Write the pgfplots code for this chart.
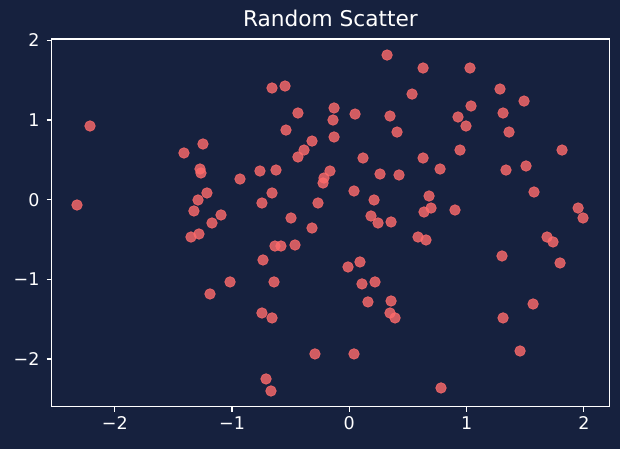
\documentclass[border=0pt]{standalone}
\usepackage{pgfplots}
\pgfplotsset{compat=1.18}
\usepackage{fontspec}
\setmainfont{DejaVu Sans}
\definecolor{bgc}{HTML}{16213E}
\definecolor{ptc}{HTML}{FF6B6B}
\begin{document}
\begin{tikzpicture}
\fill[bgc] (0,0) rectangle (446.4pt,323.3pt);
\path[use as bounding box] (0,0) rectangle (446.4pt,323.3pt);
\begin{axis}[
  at={(37.2pt,30.5pt)}, anchor=south west,
  scale only axis, width=401.5pt, height=264.7pt,
  xmin=-2.538, xmax=2.217, ymin=-2.599, ymax=2.017,
  axis line style={white, line width=0.9pt},
  axis background/.style={fill=bgc},
  tick align=outside, major tick length=3.6pt,
  tick style={white, line width=0.9pt},
  xtick={-2,-1,0,1,2}, xticklabels={−2,−1,0,1,2},
  ytick={-2,-1,0,1,2}, yticklabels={−2,−1,0,1,2},
  xtick pos=bottom, ytick pos=left,
  ticklabel style={font=\fontsize{12.6pt}{15pt}\selectfont, text=white, inner sep=0pt},
  xticklabel style={anchor=north, yshift=-3.6pt},
  yticklabel style={anchor=east, xshift=-5pt},
  title={Random Scatter},
  title style={font=\fontsize{15.6pt}{18pt}\selectfont, text=white, at={(0.5,1)}, anchor=base, inner sep=0pt, yshift=3pt},
  clip=false,
]
\addplot[only marks, mark=*, mark size=3.8pt,
  mark options={draw=ptc, fill=ptc, draw opacity=0.8, fill opacity=0.8, line width=0.5pt}]
coordinates {
(-2.322,-0.067) (-2.211,0.925) (-1.410,0.586) (-1.325,-0.142) (-1.350,-0.469)
(-1.282,-0.431) (-1.290,-0.004) (-1.273,0.385) (-1.265,0.335) (-1.248,0.699)
(-1.214,0.084) (-1.171,-0.293) (-1.094,-0.192) (-1.188,-1.184) (-1.017,-1.033)
(-0.932,0.259) (-0.762,0.360) (-0.745,-0.042) (-0.736,-0.757) (-0.745,-1.423)
(-0.659,-1.485) (-0.710,-2.251) (-0.668,-2.402) (-0.659,1.402) (-0.548,1.427)
(-0.625,0.372) (-0.659,0.084) (-0.634,-0.582) (-0.583,-0.582) (-0.642,-1.033)
(-0.540,0.874) (-0.497,-0.230) (-0.463,-0.569) (-0.438,1.088) (-0.438,0.536)
(-0.386,0.623) (-0.318,0.736) (-0.318,-0.356) (-0.267,-0.042) (-0.293,-1.937)
(-0.224,0.209) (-0.216,0.272) (-0.165,0.360) (-0.139,1.000) (-0.130,1.151)
(-0.130,0.787) (-0.011,-0.845) (0.040,0.109) (0.049,1.075) (0.040,-1.937)
(0.091,-0.782) (0.108,-1.058) (0.117,0.523) (0.159,-1.284) (0.185,-0.205)
(0.219,-1.033) (0.211,-0.004) (0.245,-0.293) (0.262,0.322) (0.322,1.816)
(0.356,-0.280) (0.347,1.050) (0.356,-1.272) (0.347,-1.423) (0.390,-1.485)
(0.407,0.849) (0.424,0.310) (0.535,1.326) (0.586,-0.469) (0.629,1.653)
(0.629,0.523) (0.637,-0.155) (0.654,-0.506) (0.680,0.046) (0.697,-0.105)
(0.774,0.385) (0.782,-2.364) (0.901,-0.130) (0.927,1.038) (0.944,0.623)
(0.995,0.925) (1.029,1.653) (1.038,1.176) (1.285,1.389) (1.311,1.088)
(1.302,-0.707) (1.311,-1.485) (1.336,0.372) (1.362,0.849) (1.456,-1.900)
(1.490,1.238) (1.507,0.423) (1.567,-1.310) (1.575,0.096) (1.686,-0.469)
(1.737,-0.531) (1.814,0.623) (1.951,-0.105) (1.993,-0.230) (1.797,-0.795)
};
\end{axis}
\end{tikzpicture}
\end{document}
